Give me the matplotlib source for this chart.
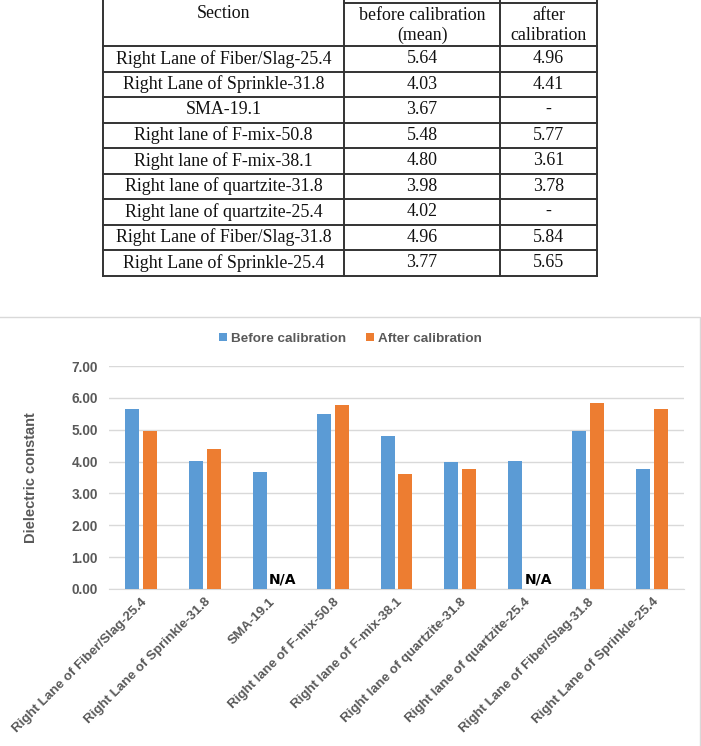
# coding = utf-8
import numpy as np
from matplotlib import pyplot as plt

# 数据
sections = ['Right Lane of Fiber/Slag-25.4', 'Right Lane of Sprinkle-31.8', 'SMA-19.1',
            'Right lane of F-mix-50.8', 'Right lane of F-mix-38.1', 'Right lane of quartzite-31.8',
            'Right lane of quartzite-25.4', 'Right Lane of Fiber/Slag-31.8', 'Right Lane of Sprinkle-25.4']
before = [5.64, 4.03, 3.67, 5.48, 4.80, 3.98, 4.02, 4.96, 3.77]
after = [4.96, 4.41, None, 5.77, 3.61, 3.78, None, 5.84, 5.65]
yticks = [0, 1, 2, 3, 4, 5, 6, 7]

blue = '#5b9bd5'
orange = '#ed7d31'
grey = '#595959'

fig = plt.figure(figsize=(7.01, 7.46), dpi=100)

# 背景层：用像素坐标画表格和图表外框
bg = fig.add_axes([0, 0, 1, 1])
bg.set_xlim(0, 701)
bg.set_ylim(746, 0)
bg.axis('off')

# 表格
cols = [103, 344, 500, 597]
row_top = 46
row_h = 25.5
lc = '#333333'
for x in cols:
    bg.plot([x, x], [-2, row_top + row_h * len(sections)], color=lc, lw=1.4)
bg.plot([cols[1], cols[3]], [3, 3], color=lc, lw=1.4)
for i in range(len(sections) + 1):
    y = row_top + row_h * i
    bg.plot([cols[0], cols[3]], [y, y], color=lc, lw=1.4)

tfont = dict(family='Liberation Serif', fontsize=12.9, color='#111111', ha='center', va='center')
bg.text((cols[0] + cols[1]) / 2, 13, 'Section', **tfont)
bg.text((cols[1] + cols[2]) / 2, 15, 'before calibration', **tfont)
bg.text((cols[1] + cols[2]) / 2, 35, '(mean)', **tfont)
bg.text((cols[2] + cols[3]) / 2, 15, 'after', **tfont)
bg.text((cols[2] + cols[3]) / 2, 35, 'calibration', **tfont)
for i, name in enumerate(sections):
    y = row_top + row_h * (i + 0.5)
    bg.text((cols[0] + cols[1]) / 2, y, name, **tfont)
    bg.text((cols[1] + cols[2]) / 2, y, '%.2f' % before[i], **tfont)
    bg.text((cols[2] + cols[3]) / 2, y, '-' if after[i] is None else '%.2f' % after[i], **tfont)

# 图表外框
bg.add_patch(plt.Rectangle((-2, 317), 702, 440, fill=False, ec='#d9d9d9', lw=1))

# 柱状图
ax = fig.add_axes([109 / 701, (746 - 589) / 746, 575 / 701, 223 / 746])
ax.patch.set_alpha(0)
x = np.arange(len(sections))
after_vals = [np.nan if v is None else v for v in after]
w = 0.22
off = 0.14
ax.bar(x - off, before, w, color=blue, label='Before calibration', zorder=3)
ax.bar(x + off, after_vals, w, color=orange, label='After calibration', zorder=3)

for i, v in enumerate(after):
    if v is None:
        ax.text(i + 0.22, 0.08, 'N/A', ha='center', va='bottom', fontsize=10,
                fontweight='bold', color='black', family='DejaVu Sans', zorder=4)

ax.set_xlim(-0.5, len(sections) - 0.5)
ax.set_ylim(0, 7)
ax.set_yticks(yticks)
ax.set_yticklabels(['%.2f' % t for t in yticks], fontsize=9.8, fontweight='bold',
                   color=grey, family='Liberation Sans')
ax.set_xticks(x)
ax.set_xticklabels(sections, rotation=45, ha='right', rotation_mode='anchor',
                   fontsize=9.6, fontweight='bold', color=grey, family='Liberation Sans')
ax.tick_params(axis='both', length=0)
ax.tick_params(axis='y', pad=8)
ax.tick_params(axis='x', pad=5)
ax.grid(axis='y', color='#d9d9d9', lw=1, zorder=0)
for s in ['top', 'right', 'left']:
    ax.spines[s].set_visible(False)
ax.spines['bottom'].set_color('#d9d9d9')

ax.set_ylabel('Dielectric constant', fontsize=10.5, fontweight='bold', color=grey,
              family='Liberation Sans', labelpad=24)

ax.legend(loc='lower center', bbox_to_anchor=(0.42, 1.04), ncol=2, frameon=False,
          handlelength=0.6, handleheight=0.6, handletextpad=0.3, columnspacing=1.5,
          prop={'family': 'Liberation Sans', 'weight': 'bold', 'size': 9.7},
          labelcolor=grey)

plt.savefig('out.png')
